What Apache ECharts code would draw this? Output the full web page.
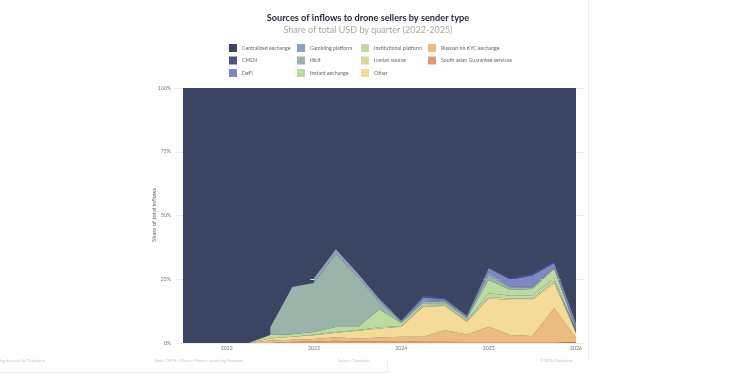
<!DOCTYPE html>
<html>
<head>
<meta charset="utf-8">
<title>Sources of inflows to drone sellers by sender type</title>
<script src="https://cdn.jsdelivr.net/npm/echarts@6/dist/echarts.min.js"></script>
<style>
  html, body { margin: 0; padding: 0; background: #fff; }
  #chart { width: 750px; height: 375px; }
</style>
</head>
<body>
<div id="chart"></div>
<script>
// quarters (one point per quarter)
const quarters = ['2021 Q3', '2021 Q4', '2022 Q1', '2022 Q2', '2022 Q3', '2022 Q4', '2023 Q1', '2023 Q2',
  '2023 Q3', '2023 Q4', '2024 Q1', '2024 Q2', '2024 Q3', '2024 Q4', '2025 Q1', '2025 Q2',
  '2025 Q3', '2025 Q4', '2026 Q1']
const pctTicks = [0, 25, 50, 75, 100]

// share of total inflows, %
const centralized     = [100, 100, 100, 100, 93.7, 78.0, 74.5, 63.1, 72.5, 82.5, 91.2, 81.2, 82.4, 89.0, 70.3, 74.6, 72.7, 68.1, 91.8]
const cmln            = [0, 0, 0, 0, 0, 0, 0, 0, 0, 0, 0, 1.0, 0.4, 0.2, 0.4, 0.6, 0.8, 0.5, 0.5]
const defi            = [0, 0, 0, 0, 0, 0, 0, 0, 0, 0.5, 0.3, 0.9, 0.6, 0.5, 1.6, 2.6, 4.3, 1.6, 1.5]
const gambling        = [null, null, null, null, null, null, 2.0, 1.9, 1.5, 1.0, 0.3, 0.5, 0.4, 0.3, 1.0, 0.6, 0.4, 0.3, 0.3]
const illicit         = [null, null, null, null, 3.2, 18.6, 19.2, 28.7, 19.7, 2.8, 0.5, 0.8, 0.6, 0.5, 2.0, 0.8, 0.6, 0.5, 0.8]
const instantExchange = [0, 0, 0, 0, 1.3, 0.9, 1.0, 2.0, 1.2, 7.0, 1.0, 0.7, 0.6, 0.7, 5.2, 2.3, 2.5, 3.5, 0.6]
const institutional   = [0, 0, 0, 0, 0, 0, 0.3, 0.3, 0.3, 0.5, 0.3, 0.4, 0.3, 0.3, 1.5, 1.0, 1.2, 1.2, 0.3]
const iranian         = [0, 0, 0, 0, 0, 0, 0, 0, 0, 0, 0, 0.3, 0.2, 0.2, 0.5, 0.6, 0.6, 0.8, 0.2]
const other           = [0, 0, 0, 0, 0.8, 1.2, 1.4, 1.7, 3.0, 3.5, 3.9, 11.7, 9.5, 5.0, 11.1, 13.8, 14.2, 9.9, 2.0]
const russianNoKyc    = [0, 0, 0, 0, 1.0, 0.8, 1.0, 1.4, 1.2, 1.5, 1.7, 2.0, 4.5, 2.9, 6.0, 2.7, 2.3, 13.2, 1.8]
const southAsian      = [0, 0, 0, 0, 0, 0.5, 0.6, 0.9, 0.6, 0.7, 0.8, 0.5, 0.5, 0.4, 0.4, 0.4, 0.4, 0.4, 0.2]

// bottom of the stack first
const layers = [
  { name: 'South asian Guarantee services', data: southAsian, color: '#e49b6c' },
  { name: 'Russian no KYC exchange', data: russianNoKyc, color: '#ecbb7e' },
  { name: 'Other', data: other, color: '#f4dc98' },
  { name: 'Iranian source', data: iranian, color: '#d6d99d' },
  { name: 'Institutional platform', data: institutional, color: '#c4d7a4' },
  { name: 'Instant exchange', data: instantExchange, color: '#bcdba0' },
  { name: 'Illicit', data: illicit, color: '#9bb4a9' },
  { name: 'Gambling platform', data: gambling, color: '#8ea2b9' },
  { name: 'DeFi', data: defi, color: '#7f88c3' },
  { name: 'CMLN', data: cmln, color: '#4a5387' },
  { name: 'Centralized exchange', data: centralized, color: '#3b4563' }
]

const legendCols = [
  ['Centralized exchange', 'CMLN', 'DeFi'],
  ['Gambling platform', 'Illicit', 'Instant exchange'],
  ['Institutional platform', 'Iranian source', 'Other'],
  ['Russian no KYC exchange', 'South asian Guarantee services']
]
const legendLeft = [229, 297, 361, 428]

const font = 'Lato, "Open Sans", sans-serif'

const chart = echarts.init(document.getElementById('chart'), null, { renderer: 'canvas' })

chart.setOption({
  backgroundColor: '#fff',
  animation: false,
  textStyle: { fontFamily: font },
  legend: legendCols.map((col, i) => ({
    data: col,
    orient: 'vertical',
    left: legendLeft[i],
    top: 44,
    padding: 0,
    icon: 'rect',
    itemWidth: 8,
    itemHeight: 8,
    itemGap: 4.5,
    selectedMode: false,
    textStyle: { fontSize: 5.2, color: '#666', fontFamily: font }
  })),
  grid: [
    // data area; the navy fill shows behind layers that start mid-way
    { left: 183, right: 174, top: 88, bottom: 32, show: true, backgroundColor: '#3b4563', borderWidth: 0 },
    // guide lines, a bit wider than the data
    { left: 175, right: 166, top: 88, bottom: 32 }
  ],
  xAxis: [{
    type: 'category',
    gridIndex: 0,
    data: quarters,
    boundaryGap: false,
    axisLine: { show: false },
    axisTick: { show: false },
    splitLine: { show: false },
    axisLabel: {
      interval: (idx, val) => val.endsWith('Q1'),
      formatter: v => v.slice(0, 4),
      fontSize: 5.2,
      color: '#777',
      margin: 3
    }
  }, {
    type: 'value',
    gridIndex: 1,
    show: false
  }],
  yAxis: [{
    type: 'value',
    gridIndex: 0,
    min: 0,
    max: 100,
    show: false
  }, {
    type: 'value',
    gridIndex: 1,
    min: 0,
    max: 100,
    interval: 25,
    axisLine: { show: false },
    axisTick: { show: false },
    axisLabel: {
      customValues: pctTicks,
      formatter: '{value}%',
      fontSize: 5.2,
      color: '#777',
      margin: 4
    },
    splitLine: { lineStyle: { color: '#ececec', width: 1 } }
  }],
  series: layers.map(l => ({
    name: l.name,
    type: 'line',
    xAxisIndex: 0,
    yAxisIndex: 0,
    stack: 'share',
    color: l.color,
    showSymbol: false,
    symbol: 'none',
    connectNulls: false,
    lineStyle: { width: 0 },
    areaStyle: { color: l.color, opacity: 1 },
    data: l.data
  })),
  graphic: [
    { type: 'text', x: 368, y: 18, style: { text: 'Sources of inflows to drone sellers by sender type', textAlign: 'center', textVerticalAlign: 'middle', fontSize: 9.2, fontWeight: 'bold', fill: '#1e2230', fontFamily: font } },
    { type: 'text', x: 368, y: 30, style: { text: 'Share of total USD by quarter (2022-2025)', textAlign: 'center', textVerticalAlign: 'middle', fontSize: 9, fill: '#a8a8a8', fontFamily: font } },
    // y axis title
    { type: 'text', x: 154.5, y: 215, rotation: Math.PI / 2, style: { text: 'Share of total inflows', textAlign: 'center', textVerticalAlign: 'middle', fontSize: 5.8, fill: '#666', fontFamily: font } },
    { type: 'line', shape: { x1: 588.5, y1: 0, x2: 588.5, y2: 361 }, style: { stroke: '#efefef', lineWidth: 1 } },
    { type: 'line', shape: { x1: 0, y1: 372.5, x2: 387.5, y2: 372.5 }, style: { stroke: '#ececec', lineWidth: 1 } },
    { type: 'line', shape: { x1: 387.5, y1: 361, x2: 387.5, y2: 373 }, style: { stroke: '#ececec', lineWidth: 1 } },
    { type: 'text', left: 0, top: 359, style: { text: 'ing detected by Chainalysis', fontSize: 3.8, fill: '#c4c4c4', fontFamily: font } },
    { type: 'text', left: 155, top: 359, style: { text: 'Note: CMLN = Chinese Money Laundering Networks', fontSize: 3.8, fill: '#c4c4c4', fontFamily: font } },
    { type: 'text', left: 338, top: 359, style: { text: 'Source: Chainalysis', fontSize: 3.8, fill: '#c4c4c4', fontFamily: font } },
    { type: 'text', left: 540, top: 359, style: { text: '© 2026 Chainalysis', fontSize: 3.8, fill: '#c4c4c4', fontFamily: font } }
  ]
})

window.onresize = function () {
  chart.resize()
}
</script>
</body>
</html>
